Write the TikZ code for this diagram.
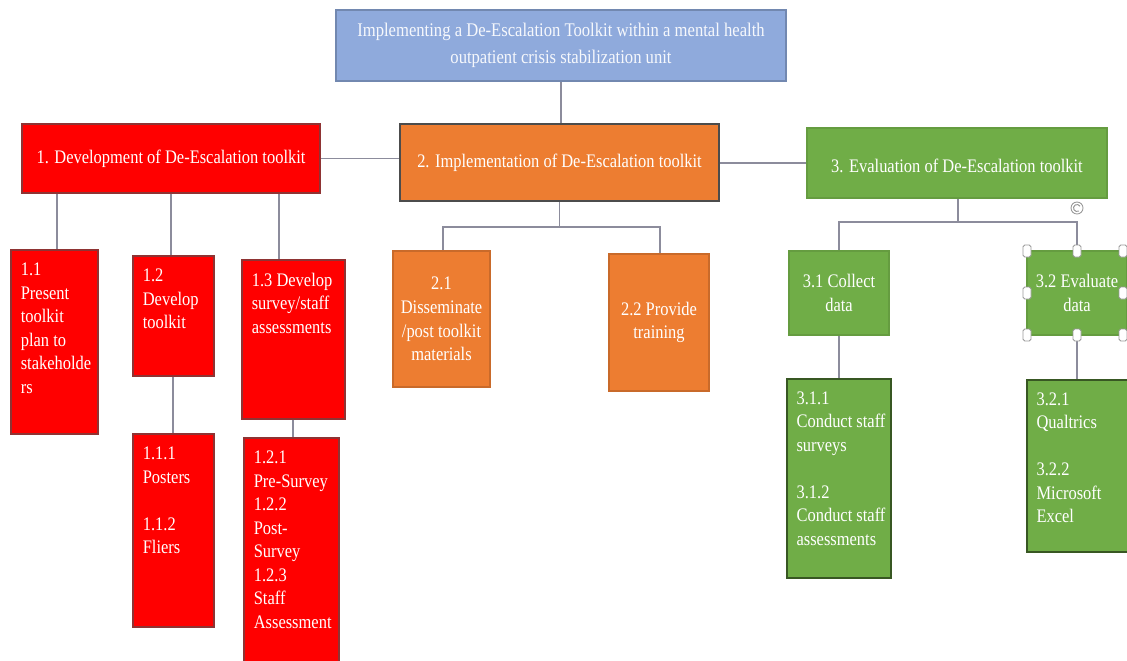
\documentclass[tikz,border=0pt]{standalone}
\usepackage{fontspec}
\setmainfont{Liberation Serif}[FakeStretch=0.86]
\definecolor{cred}{HTML}{FF0000}
\definecolor{corange}{HTML}{ED7D31}
\definecolor{cgreen}{HTML}{70AD47}
\definecolor{cblue}{HTML}{8FAADC}
\definecolor{cline}{HTML}{8C8C9C}
\newcommand\mkbox[6]{%
  \node[#1, minimum width={(#5-#3)*0.02cm}, minimum height={(#6-#4)*0.02cm}] (#2) at ({(#3+#5)/2},{(#4+#6)/2}) {};}
\begin{document}
\begin{tikzpicture}[x=0.02cm,y=-0.02cm,
  bx/.style={rectangle, inner sep=0pt, line width=0.6pt},
  titlebox/.style={bx, fill=cblue, draw=cblue!80!black},
  redbox/.style={bx, fill=cred, draw=red!45!black!80},
  orbox/.style={bx, fill=corange, draw=corange!85!black},
  orbig/.style={bx, fill=corange, draw=black!70, line width=1.2pt},
  grbox/.style={bx, fill=cgreen, draw=cgreen!90!black},
  grdark/.style={bx, fill=cgreen, draw=cgreen!50!black, line width=0.9pt},
  txt/.style={text=white, font=\fontsize{10.9}{13.4}\selectfont, inner sep=0pt, align=left, anchor=north west},
  ctxt/.style={text=white, font=\fontsize{10.9}{13.4}\selectfont, inner sep=0pt, align=center},
  ttxt/.style={text=white!92!cblue, font=\fontsize{11}{15}\selectfont, inner sep=0pt, align=center},
  conn/.style={draw=cline, line width=0.8pt},
  hdl/.style={draw=gray!80, fill=white, line width=0.5pt, rounded corners=1pt, minimum width=0.16cm, minimum height=0.24cm, inner sep=0pt}]
\useasboundingbox (0,0) rectangle (1127,660);

% boxes
\mkbox{titlebox}{t}{336}{10}{786}{81}
\mkbox{redbox}{b1}{22}{124}{320}{193}
\mkbox{orbig}{b2}{400}{124}{719}{201}
\mkbox{grbox}{b3}{807}{128}{1107}{198}
\mkbox{redbox}{b11}{11}{250}{98}{434}
\mkbox{redbox}{b12}{133}{256}{214}{376}
\mkbox{redbox}{b111}{133}{434}{214}{627}
\mkbox{redbox}{b13}{242}{260}{345}{419}
\mkbox{redbox}{b121}{244}{438}{339}{672}
\mkbox{orbox}{b21}{393}{251}{490}{387}
\mkbox{orbox}{b22}{609}{254}{709}{391}
\mkbox{grbox}{b31}{789}{251}{889}{335}
\mkbox{grbox}{b32}{1027}{251}{1127}{335}
\mkbox{grdark}{b311}{787}{379}{891}{578}
\mkbox{grdark}{b321}{1027}{380}{1130}{552}

% texts
\node[ttxt] (tt) at (t) {Implementing a De-Escalation Toolkit within a mental health\\outpatient crisis stabilization unit};
\node[ctxt] (b1t) at (b1) {1. Development of De-Escalation toolkit};
\node[ctxt] (b2t) at (b2) {2. Implementation of De-Escalation toolkit};
\node[ctxt] (b3t) at ([yshift=-0.06cm]b3) {3. Evaluation of De-Escalation toolkit};
\node[txt] (b11t) at ([shift={(10,13)}]b11.north west) {1.1\\Present\\toolkit\\plan to\\stakeholde\\rs};
\node[txt] (b12t) at ([shift={(10,13)}]b12.north west) {1.2\\Develop\\toolkit};
\node[txt] (b13t) at ([shift={(10,13)}]b13.north west) {1.3 Develop\\survey/staff\\assessments};
\node[txt] (b111t) at ([shift={(10,13)}]b111.north west) {1.1.1\\Posters\\[13.4pt]1.1.2\\Fliers};
\node[txt] (b121t) at ([shift={(10,13)}]b121.north west) {1.2.1\\Pre-Survey\\1.2.2\\Post-\\Survey\\1.2.3\\Staff\\Assessment};
\node[ctxt] (b21t) at (b21) {2.1\\Disseminate\\/post toolkit\\materials};
\node[ctxt] (b22t) at (b22) {2.2 Provide\\training};
\node[ctxt] (b31t) at (b31) {3.1 Collect\\data};
\node[ctxt] (b32t) at (b32) {3.2 Evaluate\\data};
\node[txt] (b311t) at ([shift={(10,13)}]b311.north west) {3.1.1\\Conduct staff\\surveys\\[13.4pt]3.1.2\\Conduct staff\\assessments};
\node[txt] (b321t) at ([shift={(10,13)}]b321.north west) {3.2.1\\Qualtrics\\[13.4pt]3.2.2\\Microsoft\\Excel};

% junction coordinates
\coordinate (j2) at (563,227);
\coordinate (j3) at (958,222);

% connectors
\draw[conn] (t.south) -- (t.south |- b2.north);
\draw[conn] (b1.east) -- (b1.east -| b2.west);
\draw[conn] (b2.east |- b3.west) -- (b3.west);
\draw[conn] (b1.south -| 57,0) -- (b11.north -| 57,0);
\draw[conn] (b1.south -| 171,0) -- (b12.north -| 171,0);
\draw[conn] (b1.south -| 279,0) -- (b13.north -| 279,0);
\draw[conn] (b12.south -| 173,0) -- (b111.north -| 173,0);
\draw[conn] (b13.south -| 293,0) -- (b121.north -| 293,0);
\draw[conn] (b2.south |- b2.south) -- (b2.south |- j2);
\draw[conn] (b21.north -| 443,0) -- (443,227) -- (660,227) -- (b22.north -| 660,0);
\draw[conn] (b3.south -| j3) -- (j3);
\draw[conn] (b31.north) -- (b31.north |- j3) -- (b32.north |- j3) -- (b32.north);
\draw[conn] (b31.south) -- (b311.north -| b31.south);
\draw[conn] (b32.south) -- (b321.north -| b32.south);

% selection handles on 3.2
\node[draw=gray!80, fill=white, circle, minimum size=0.24cm, inner sep=0pt, line width=0.5pt] (rot) at (1077,208) {};
\draw[gray!90, line width=0.5pt] ([shift={(60:3.5)}]rot.center) arc (60:330:3.5);
\node[hdl] (h1) at (1027,251) {};
\node[hdl] (h2) at (1077,251) {};
\node[hdl] (h3) at (1123,251) {};
\node[hdl] (h4) at (1027,293) {};
\node[hdl] (h5) at (1123,293) {};
\node[hdl] (h6) at (1027,335) {};
\node[hdl] (h7) at (1077,335) {};
\node[hdl] (h8) at (1123,335) {};
\end{tikzpicture}
\end{document}
